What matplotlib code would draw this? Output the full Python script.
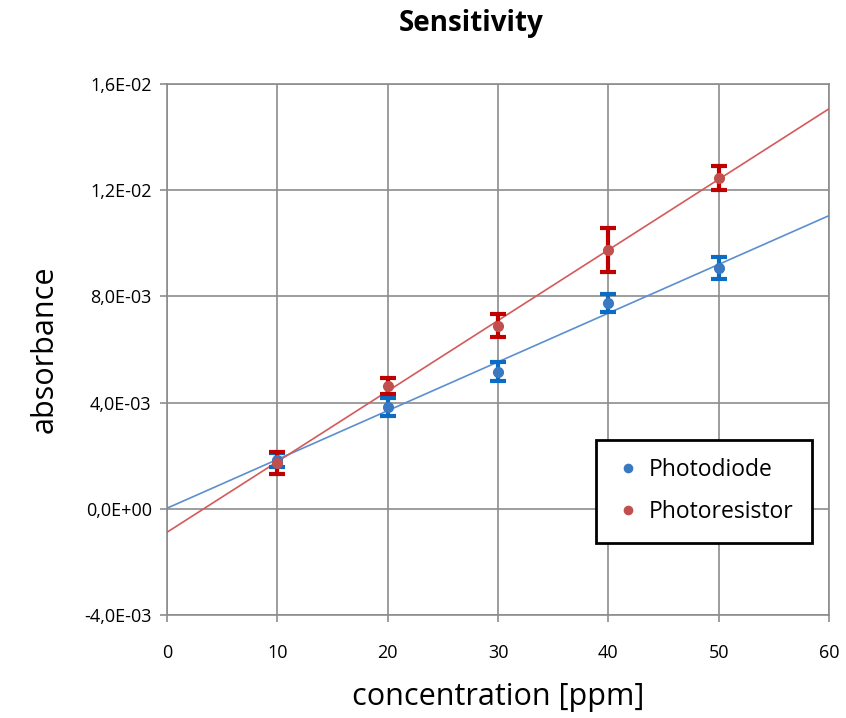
import numpy as np
import matplotlib
matplotlib.use("Agg")
import matplotlib.pyplot as plt

plt.rcParams['font.family'] = ['Open Sans', 'DejaVu Sans']

conc = [10, 20, 30, 40, 50]
photodiode = [1.84e-3, 3.84e-3, 5.16e-3, 7.75e-3, 9.07e-3]
photodiode_err = [0.25e-3, 0.35e-3, 0.35e-3, 0.34e-3, 0.43e-3]
photoresistor = [1.73e-3, 4.62e-3, 6.90e-3, 9.75e-3, 12.46e-3]
photoresistor_err = [0.42e-3, 0.30e-3, 0.43e-3, 0.83e-3, 0.47e-3]

yticks = [-4e-3, 0.0, 4e-3, 8e-3, 1.2e-2, 1.6e-2]
ytick_labels = ['-4,0E-03', '0,0E+00', '4,0E-03', '8,0E-03', '1,2E-02', '1,6E-02']
xticks = [0, 10, 20, 30, 40, 50, 60]

fig = plt.figure(figsize=(8.46, 7.18), dpi=100)
ax = fig.add_axes([0.1974, 0.1435, 0.7826, 0.7395])

grid_c = '#8c8c8c'
xfit = np.array([0, 60])
for y, err, mc, ec, lc, lab in [
    (photodiode, photodiode_err, '#3a78c2', '#0a6cc4', '#5b8fd0', 'Photodiode'),
    (photoresistor, photoresistor_err, '#c0504d', '#c00000', '#d45a5a', 'Photoresistor'),
]:
    p = np.polyfit(conc, y, 1)
    ax.plot(xfit, np.polyval(p, xfit), color=lc, lw=1.2, zorder=3)
    ax.errorbar(conc, y, yerr=err, fmt='none', ecolor=ec, elinewidth=3,
                capsize=6, capthick=3, zorder=4)
    ax.plot(conc, y, 'o', color=mc, ms=7, zorder=5, label=lab)

ax.set_xlim(0, 60)
ax.set_ylim(-4e-3, 1.6e-2)
ax.set_xticks(xticks)
ax.set_yticks(yticks)
ax.set_yticklabels(ytick_labels)
ax.grid(True, color=grid_c, lw=1.2)
ax.set_axisbelow(True)
for s in ax.spines.values():
    s.set_color(grid_c)
    s.set_linewidth(1.2)
ax.tick_params(axis='both', colors=grid_c, labelcolor='black', labelsize=13,
               length=5, width=1.2, direction='out')
ax.tick_params(axis='x', pad=16)
ax.tick_params(axis='y', pad=6)

fig.text(471 / 846, 1 - 23 / 718, 'Sensitivity', fontsize=20, fontweight='bold',
         ha='center', va='center')
ax.set_xlabel('concentration [ppm]', fontsize=22, labelpad=14)
ax.set_ylabel('absorbance', fontsize=22, labelpad=18)

leg = ax.legend(loc='lower right', bbox_to_anchor=(0.974, 0.136), fontsize=16.5,
                frameon=True, fancybox=False, handletextpad=0.3,
                borderpad=0.8, labelspacing=0.8, markerscale=0.85,
                handlelength=1.2, borderaxespad=0, framealpha=1)
leg.get_frame().set_edgecolor('black')
leg.get_frame().set_linewidth(2)

fig.savefig('out.png', dpi=100)
